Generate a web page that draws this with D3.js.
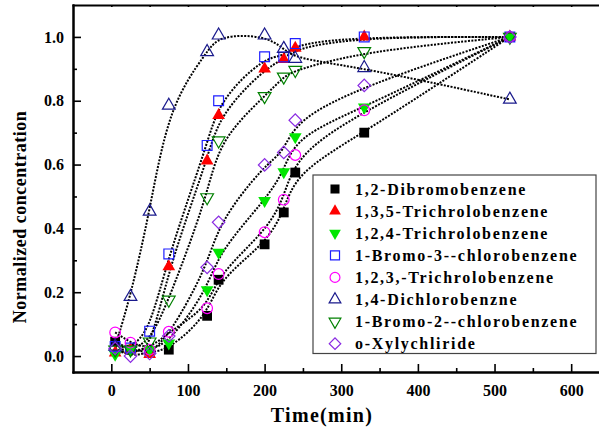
<!DOCTYPE html>
<html>
<head>
<meta charset="utf-8">
<script src="https://cdn.jsdelivr.net/npm/d3@7/dist/d3.min.js"></script>
<style>
  html, body { margin: 0; padding: 0; background: #fff; }
  svg { display: block; }
  text { font-family: "Liberation Serif", "Times New Roman", serif; font-weight: bold; fill: #000; }
</style>
</head>
<body>
<svg id="chart" width="599" height="429"></svg>
<script>
// Sampling times (min)
const times = [5, 25, 50, 75, 125, 140, 200, 225, 240, 330, 520];

// Normalized concentration of each compound at the sampling times
const dibromobenzene12   = [0.045, 0.02, 0.01, 0.02, 0.126, 0.239, 0.35, 0.45, 0.575, 0.70, 1.0];
const trichloro135       = [0.01, 0.02, 0.005, 0.28, 0.612, 0.754, 0.90, 0.93, 0.965, 1.0, 1.0];
const trichloro124       = [0.005, 0.02, 0.02, 0.04, 0.207, 0.325, 0.487, 0.577, 0.687, 0.78, 1.0];
const bromo3chloro       = [0.03, 0.025, 0.078, 0.32, 0.66, 0.80, 0.938, 0.937, 0.979, 1.0, 1.0];
const trichloro123       = [0.074, 0.042, 0.02, 0.076, 0.15, 0.257, 0.388, 0.49, 0.63, 0.77, 1.0];
const dichloro14         = [0.03, 0.186, 0.453, 0.785, 0.953, 1.005, 1.005, 0.963, 0.932, 0.903, 0.804];
const bromo2chloro       = [0.02, 0.02, 0.045, 0.176, 0.497, 0.675, 0.814, 0.875, 0.896, 0.955, 1.0];
const xylylchloride      = [0.024, 0.0, 0.008, 0.063, 0.278, 0.419, 0.599, 0.638, 0.739, 0.848, 1.0];

const seriesNames = [
  "1,2-Dibromobenzene",
  "1,3,5-Trichrolobenzene",
  "1,2,4-Trichrolobenzene",
  "1-Bromo-3--chlorobenzene",
  "1,2,3,-Trichrolobenzene",
  "1,4-Dichlorobenzne",
  "1-Bromo-2--chlorobenzene",
  "o-Xylychliride"
];
const seriesValues = [dibromobenzene12, trichloro135, trichloro124, bromo3chloro,
                      trichloro123, dichloro14, bromo2chloro, xylylchloride];

const xTicks = [0, 100, 200, 300, 400, 500, 600];
const yTicks = [0.0, 0.2, 0.4, 0.6, 0.8, 1.0];

// Marker style per series: shape, colour, filled or open
const markerStyles = [
  { shape: "square",   color: "#000000", filled: true  },
  { shape: "up",       color: "#ff0000", filled: true  },
  { shape: "down",     color: "#00e600", filled: true  },
  { shape: "square",   color: "#1f1fff", filled: false },
  { shape: "circle",   color: "#ff00ff", filled: false },
  { shape: "up",       color: "#1a1a8c", filled: false },
  { shape: "down",     color: "#008000", filled: false },
  { shape: "diamond",  color: "#8a2be2", filled: false }
];

const svg = d3.select("#chart");
const plotLeft = 73, plotRight = 598, plotTop = 5, plotBottom = 372;

const x = d3.scaleLinear().domain([-50, 635]).range([plotLeft, plotRight]);
const y = d3.scaleLinear().domain([-0.05, 1.1]).range([plotBottom, plotTop]);

function symbolPath(shape, big) {
  const k = big ? 1 : 0.85;
  switch (shape) {
    case "square":  return d3.symbol(d3.symbolSquare, 96 * k)();
    case "up":      return d3.symbol(d3.symbolTriangle, 70 * k)();
    case "down":    return d3.symbol(d3.symbolTriangle, 70 * k)();
    case "circle":  return d3.symbol(d3.symbolCircle, 90 * k)();
    case "diamond": return d3.symbol(d3.symbolSquare, 78 * k)();
  }
}
function symbolRotation(shape) {
  if (shape === "down") return 180;
  if (shape === "diamond") return 45;
  return 0;
}

// Axes: left (ticks inward), bottom (ticks inward), top frame line
const gAxes = svg.append("g");

const yAxis = d3.axisLeft(y).tickValues(yTicks).tickFormat(d3.format(".1f"))
  .tickSizeInner(-8).tickSizeOuter(0).tickPadding(9);
const yMinor = d3.axisLeft(y).tickValues([0.1, 0.3, 0.5, 0.7, 0.9]).tickFormat("")
  .tickSizeInner(-4).tickSizeOuter(0);
const xAxis = d3.axisBottom(x).tickValues(xTicks).tickFormat(d3.format("d"))
  .tickSizeInner(-8).tickSizeOuter(0).tickPadding(13);
const xMinor = d3.axisBottom(x).tickValues([50, 150, 250, 350, 450, 550]).tickFormat("")
  .tickSizeInner(-4).tickSizeOuter(0);
const xTop = d3.axisTop(x).tickValues([0, 50, 100, 150, 200, 250, 300, 350, 400, 450, 500, 550, 600])
  .tickFormat("").tickSizeInner(-2).tickSizeOuter(0);

function styleAxis(g) {
  g.select(".domain").attr("stroke", "#000").attr("stroke-width", 2);
  g.selectAll(".tick line").attr("stroke", "#000").attr("stroke-width", 1.6);
  g.selectAll(".tick text").style("font-size", "16px").style("font-family", "'Liberation Serif', serif")
    .style("font-weight", "bold").attr("fill", "#000");
}

gAxes.append("g").attr("transform", `translate(${plotLeft},0)`).call(yAxis).call(styleAxis);
gAxes.append("g").attr("transform", `translate(${plotLeft},0)`).call(yMinor).call(styleAxis);
gAxes.append("g").attr("transform", `translate(0,${plotBottom})`).call(xAxis).call(styleAxis);
gAxes.append("g").attr("transform", `translate(0,${plotBottom})`).call(xMinor).call(styleAxis);
gAxes.append("g").attr("transform", `translate(0,${plotTop})`).call(xTop).call(styleAxis);

gAxes.selectAll(".domain").attr("stroke-linecap", "square");

// Axis titles
svg.append("text")
  .attr("x", 322).attr("y", 422)
  .attr("text-anchor", "middle")
  .style("font-size", "20px").style("letter-spacing", "1.3px")
  .text("Time(min)");
svg.append("text")
  .attr("transform", "translate(26,217) rotate(-90)")
  .attr("text-anchor", "middle")
  .style("font-size", "18px").style("letter-spacing", "0.5px")
  .text("Normalized concentration");

// Dotted trend curves through each series
const line = d3.line()
  .x((d, i) => x(times[i]))
  .y(d => y(d))
  .curve(d3.curveBasis);

const gCurves = svg.append("g");
seriesValues.forEach(vals => {
  gCurves.append("path")
    .attr("d", line(vals))
    .attr("fill", "none")
    .attr("stroke", "#000")
    .attr("stroke-width", 2)
    .attr("stroke-dasharray", "2,1.4");
});

// Markers
const gMarks = svg.append("g");
seriesValues.forEach((vals, s) => {
  const st = markerStyles[s];
  gMarks.append("g").selectAll("path")
    .data(vals)
    .join("path")
    .attr("d", symbolPath(st.shape, true))
    .attr("transform", (d, i) => `translate(${x(times[i])},${y(d)}) rotate(${symbolRotation(st.shape)})`)
    .attr("fill", st.filled ? st.color : "#fff")
    .attr("fill-opacity", st.filled ? 1 : 0)
    .attr("stroke", st.filled ? "none" : st.color)
    .attr("stroke-width", 1.2);
});

// Legend
const legend = svg.append("g");
legend.append("rect")
  .attr("x", 313).attr("y", 175).attr("width", 283).attr("height", 178.5)
  .attr("fill", "#fff").attr("stroke", "#444").attr("stroke-width", 1.2);
seriesNames.forEach((name, i) => {
  const st = markerStyles[i];
  const cy = 189 + i * 22.1;
  legend.append("path")
    .attr("d", symbolPath(st.shape, false))
    .attr("transform", `translate(335,${cy}) rotate(${symbolRotation(st.shape)})`)
    .attr("fill", st.filled ? st.color : "none")
    .attr("stroke", st.filled ? "none" : st.color)
    .attr("stroke-width", 1.2);
  legend.append("text")
    .attr("x", 355).attr("y", cy).attr("dy", "0.36em")
    .style("font-size", "16px").style("letter-spacing", "1.7px")
    .text(name);
});
</script>
</body>
</html>
